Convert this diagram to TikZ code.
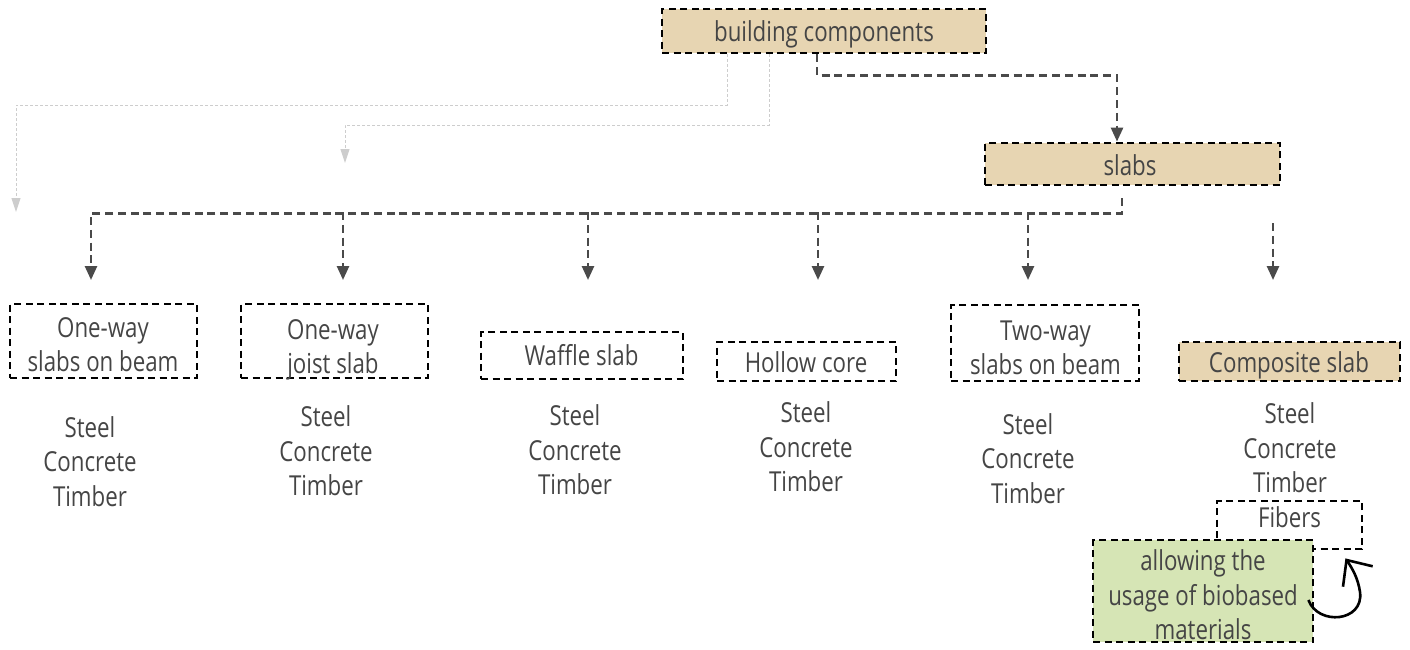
\documentclass[tikz,border=0pt]{standalone}
\usepackage{fontspec}
\setmainfont{Open Sans}[FakeStretch=0.81]
\usetikzlibrary{arrows.meta}
\definecolor{txtgray}{HTML}{454545}
\definecolor{boxtan}{HTML}{E7D5B2}
\definecolor{boxleaf}{HTML}{D6E5B5}
\definecolor{linkgray}{HTML}{4A4A4A}
\definecolor{faintgray}{HTML}{CDCDCD}

\begin{document}
\begin{tikzpicture}[x=1pt,y=-1pt,
  every node/.style={font=\fontsize{27.5}{34.5}\selectfont, text=txtgray, align=center, inner sep=0pt},
  % text blocks: centred between the top of the first line and the last baseline
  one/.style={text height=20.9pt, text depth=0pt},
  two/.style={text height=55.4pt, text depth=0pt},
  three/.style={text height=89.9pt, text depth=0pt},
  box/.style={draw=black, line width=2.8pt, dash pattern=on 7pt off 4.5pt},
  tanbox/.style={box, fill=boxtan},
  leafbox/.style={box, fill=boxleaf},
  link/.style={draw=linkgray, line width=2.6pt, dash pattern=on 8pt off 4.8pt,
    -{Triangle[length=14pt,width=12pt]}},
  faint/.style={draw=faintgray, line width=1pt, dash pattern=on 3pt off 2pt,
    -{Triangle[length=14pt,width=9pt]}},
  loop/.style={draw=black, line width=2.6pt, -{Straight Barb[length=20pt,width=36pt,line width=2.6pt]}}
]
\useasboundingbox (0,0) rectangle (1410,649);

% top of the hierarchy
\node[tanbox, minimum width=324pt, minimum height=44pt] (bc) at (824,31) {};
\node[one] (bcT) at (824,31.2) {building components};
\node[tanbox, minimum width=295pt, minimum height=42pt] (slabs) at (1132.5,164) {};
\node[one] (slabsT) at (1130,165) {slabs};

% slab types
\node[box, minimum width=187pt, minimum height=74pt] (b1) at (103.5,341) {};
\node[two] (b1T) at (103,344) {One-way\\slabs on beam};
\node[box, minimum width=187pt, minimum height=74pt] (b2) at (334.5,341) {};
\node[two] (b2T) at (333,346) {One-way\\joist slab};
\node[box, minimum width=202pt, minimum height=47pt] (b3) at (582,355.5) {};
\node[one] (b3T) at (581.5,355) {Waffle slab};
\node[box, minimum width=179pt, minimum height=39pt] (b4) at (806.5,361.5) {};
\node[one] (b4T) at (806,362) {Hollow core};
\node[box, minimum width=188pt, minimum height=76pt] (b5) at (1045,343) {};
\node[two] (b5T) at (1045.5,347) {Two-way\\slabs on beam};
\node[tanbox, minimum width=221pt, minimum height=39pt] (b6) at (1289.5,361.5) {};
\node[one] (b6T) at (1289,362) {Composite slab};

% materials
\node[three] (m1) at (90,461.5) {Steel\\Concrete\\Timber};
\node[three] (m2) at (326,451) {Steel\\Concrete\\Timber};
\node[three] (m3) at (575,450) {Steel\\Concrete\\Timber};
\node[three] (m4) at (806,447) {Steel\\Concrete\\Timber};
\node[three] (m5) at (1028,458.5) {Steel\\Concrete\\Timber};
\node[three] (m6) at (1290,448) {Steel\\Concrete\\Timber};

\node[box, minimum width=145pt, minimum height=48pt] (fib) at (1289.5,525) {};
\node[one] (fibT) at (1289.5,517) {Fibers};
\node[leafbox, minimum width=220pt, minimum height=102pt] (bio) at (1203,591) {};
\node[three] (bioT) at (1203,595) {allowing the\\usage of biobased\\materials};

% connector end points
\coordinate (g1) at (16,212);
\coordinate (g2) at (345,163);
\coordinate (bus) at (0,212);
\coordinate (d1) at (91,280);
\coordinate (d2) at (343,280);
\coordinate (d3) at (588,280);
\coordinate (d4) at (818,280);
\coordinate (d5) at (1028,280);
\coordinate (d6top) at (1273,223);
\coordinate (d6) at (1273,280);

% faint branches
\draw[faint] ([xshift=-97pt]bc.south) -- ++(0,51) -| (g1);
\draw[faint] ([xshift=-55pt]bc.south) -- ++(0,71) -| (g2);

% main branches
\draw[link] ([xshift=-7pt]bc.south) -- ++(0,21) -| ([xshift=-15.5pt]slabs.north);
\draw[link] ([shift={(-10.5,12)}]slabs.south) -- ++(0,15) -| (d1);
\draw[link] (d2 |- bus) -- (d2);
\draw[link] (d3 |- bus) -- (d3);
\draw[link] (d4 |- bus) -- (d4);
\draw[link] (d5 |- bus) -- (d5);
\draw[link] (d6top) -- (d6);

% curved arrow from the biobased note to the fibers
\draw[loop] ([shift={(-6,9)}]bio.east) .. controls (1318,626) and (1364,622) .. (1360,592)
  .. controls (1358,578) and (1352,568) .. ([shift={(-18,8)}]fib.south east);
\end{tikzpicture}
\end{document}
